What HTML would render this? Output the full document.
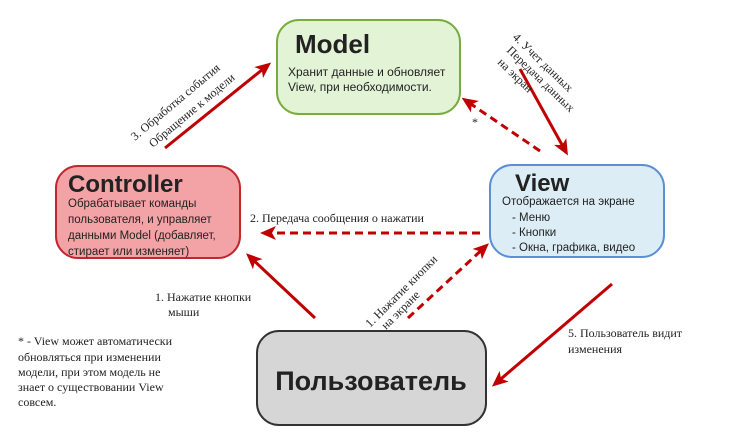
<!DOCTYPE html>
<html><head><meta charset="utf-8"><style>
body{margin:0;background:#fff;width:736px;height:437px;overflow:hidden}
svg{display:block}
.s{font-family:"Liberation Serif",serif;font-size:12px;fill:#222}
.a{font-family:"Liberation Sans",sans-serif;fill:#222}
</style></head><body>
<svg width="736" height="437" viewBox="0 0 736 437">
<defs>
<marker id="M" markerWidth="16" markerHeight="14" refX="12" refY="7" orient="auto" markerUnits="userSpaceOnUse"><path d="M0,0 L16,7 L0,14 L4,7 z" fill="#c00000"/></marker>
</defs>
<rect x="277" y="20" width="183" height="94" rx="22" fill="#e3f3d6" stroke="#76ad3c" stroke-width="2"/>
<text x="295" y="53" class="a" font-size="26" font-weight="bold" fill="#333">Model</text>
<text x="288" y="76" class="a" font-size="12">Хранит данные и обновляет</text>
<text x="288" y="91" class="a" font-size="12">View, при необходимости.</text>

<rect x="56" y="166" width="184" height="92" rx="22" fill="#f3a3a6" stroke="#c0282f" stroke-width="2"/>
<text x="68" y="192" class="a" font-size="24" font-weight="bold" fill="#333">Controller</text>
<text x="68" y="207" class="a" font-size="11.5">Обрабатывает команды</text>
<text x="68" y="223" class="a" font-size="11.5">пользователя, и управляет</text>
<text x="68" y="239" class="a" font-size="11.5">данными Model (добавляет,</text>
<text x="68" y="255" class="a" font-size="11.5">стирает или изменяет)</text>

<rect x="490" y="165" width="174" height="92" rx="22" fill="#dcedf6" stroke="#5b8fd6" stroke-width="2"/>
<text x="515" y="191" class="a" font-size="24" font-weight="bold" fill="#333">View</text>
<text x="502" y="205" class="a" font-size="11.5">Отображается на экране</text>
<text x="512" y="221" class="a" font-size="11.5">- Меню</text>
<text x="512" y="236" class="a" font-size="11.5">- Кнопки</text>
<text x="512" y="251" class="a" font-size="11.5">- Окна, графика, видео</text>

<rect x="257" y="331" width="229" height="94" rx="22" fill="#d6d6d6" stroke="#333" stroke-width="2"/>
<text x="371" y="390" class="a" font-size="27" font-weight="bold" text-anchor="middle" fill="#333">Пользователь</text>

<g stroke="#c00000" stroke-width="3" fill="none">
<line x1="165" y1="148" x2="268" y2="65" marker-end="url(#M)"/>
<line x1="520" y1="69" x2="566" y2="152" marker-end="url(#M)"/>
<line x1="540" y1="151" x2="465" y2="100" stroke-dasharray="8,5" marker-end="url(#M)"/>
<line x1="480" y1="233" x2="264" y2="233" stroke-dasharray="8,5" marker-end="url(#M)"/>
<line x1="315" y1="318" x2="249" y2="256" marker-end="url(#M)"/>
<line x1="408" y1="318" x2="486" y2="246" stroke-dasharray="8,5" marker-end="url(#M)"/>
<line x1="612" y1="284" x2="495" y2="384" marker-end="url(#M)"/>
</g>

<text class="s" transform="translate(135,141) rotate(-40)">3. Обработка события</text>
<text class="s" transform="translate(153,148) rotate(-40)">Обращение к модели</text>
<text class="s" transform="translate(512,38) rotate(44)">4. Учет данных</text>
<text class="s" transform="translate(506,51) rotate(44)">Передача данных</text>
<text class="s" transform="translate(497,63) rotate(44)">на экран</text>
<text x="472" y="126" class="s" font-size="10">*</text>
<text x="250" y="222" class="s">2. Передача сообщения о нажатии</text>
<text x="155" y="301" class="s">1. Нажатие кнопки</text>
<text x="168" y="316" class="s">мыши</text>
<text class="s" transform="translate(370,328) rotate(-45)">1. Нажатие кнопки</text>
<text class="s" transform="translate(386,330) rotate(-45)">на экране</text>
<text x="568" y="337" class="s">5. Пользователь видит</text>
<text x="568" y="353" class="s">изменения</text>
<text x="18" y="345" class="s">* - View может автоматически</text>
<text x="18" y="361" class="s">обновляться при изменении</text>
<text x="18" y="376" class="s">модели, при этом модель не</text>
<text x="18" y="391" class="s">знает о существовании View</text>
<text x="18" y="406" class="s">совсем.</text>
</svg>
</body></html>
